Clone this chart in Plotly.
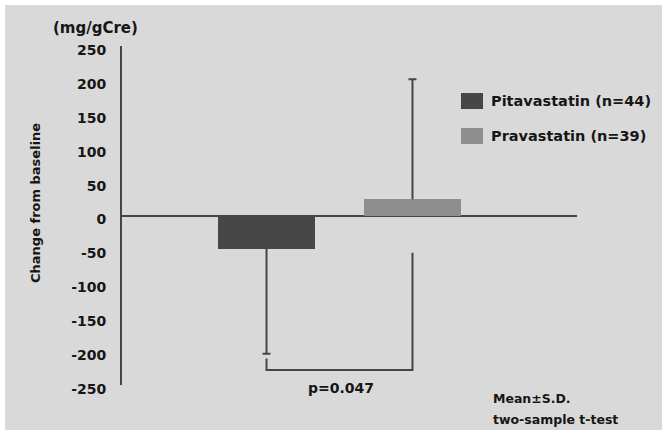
import plotly.graph_objects as go

# Change in urinary albumin from baseline (mg/gCre), mean ± S.D.
groups = ["Pitavastatin (n=44)", "Pravastatin (n=39)"]
means = [-49, 24]
sd_up = [0, 177]      # upper error arm drawn only for the positive bar
sd_down = [155, 0]    # lower error arm drawn only for the negative bar
bar_colors = ["#474747", "#8e8e8e"]
y_ticks = [250, 200, 150, 100, 50, 0, -50, -100, -150, -200, -250]
p_text = "p=0.047"

# significance bracket levels (data units)
bracket_base = -228
bracket_left_top = -211
bracket_right_top = -55

W, H = 662, 430
L, R, T, B = 122, 577, 46, 385
BG = "#d9d9d9"
INK = "#454545"
TXT = "#161616"
FONT = "DejaVu Sans, Verdana, sans-serif"


def px(x):
    return (x - L) / (R - L)


def py(y):
    return (B - y) / (B - T)


def label(text, x, y, size, xanchor="center", angle=0):
    return dict(text=f"<b>{text}</b>", x=px(x), y=py(y), xref="paper", yref="paper",
                xanchor=xanchor, yanchor="middle", showarrow=False, textangle=angle,
                font=dict(size=size, color=TXT, family=FONT))


xs = [0, 1]
fig = go.Figure()
fig.add_trace(go.Bar(
    x=xs, y=means, width=0.664,
    marker=dict(color=bar_colors, line=dict(width=0)),
    showlegend=False, hoverinfo="skip",
))

# error arms without caps, starting at the bar ends
fig.add_trace(go.Scatter(
    x=xs, y=means, mode="markers", marker=dict(size=0.1, opacity=0),
    error_y=dict(type="data", symmetric=False, array=sd_up, arrayminus=sd_down,
                 color=INK, thickness=2, width=0),
    showlegend=False, hoverinfo="skip",
))

# caps only at the outer ends of the arms
arm_ends = [m + u - d for m, u, d in zip(means, sd_up, sd_down)]
fig.add_trace(go.Scatter(
    x=xs, y=arm_ends, mode="markers", marker=dict(size=0.1, opacity=0),
    error_y=dict(type="data", array=[0, 0], color=INK, thickness=2, width=4),
    showlegend=False, hoverinfo="skip",
))

shapes = [
    # white edge strips on top and left
    dict(type="rect", xref="paper", yref="paper", x0=px(0), x1=px(W), y0=py(0), y1=py(5),
         fillcolor="white", line=dict(width=0), layer="below"),
    dict(type="rect", xref="paper", yref="paper", x0=px(0), x1=px(5), y0=py(0), y1=py(H),
         fillcolor="white", line=dict(width=0), layer="below"),
    # p-value bracket
    dict(type="path", xref="x", yref="y",
         path=f"M {xs[0]},{bracket_left_top} L {xs[0]},{bracket_base} L {xs[1]},{bracket_base} L {xs[1]},{bracket_right_top}",
         line=dict(color=INK, width=2)),
]

annotations = [
    label("(mg/gCre)", 95, 28, 15),
    label("Change from baseline", 35, 203, 13, angle=-90),
    label(p_text, 341, 388, 14),
    label("Mean±S.D.", 491, 398, 12.5, xanchor="left"),
    label("two-sample t-test", 491, 419, 12.5, xanchor="left"),
]

# legend: swatches and labels
legend_rows = [101, 136]
for name, color, yc in zip(groups, bar_colors, legend_rows):
    shapes.append(dict(type="rect", xref="paper", yref="paper",
                       x0=px(461), x1=px(483), y0=py(yc + 8), y1=py(yc - 8),
                       fillcolor=color, line=dict(width=0)))
    annotations.append(label(name, 489, yc, 14.5, xanchor="left"))

fig.update_layout(
    width=W, height=H,
    margin=dict(l=L, r=W - R, t=T, b=H - B, pad=0),
    paper_bgcolor=BG, plot_bgcolor=BG,
    shapes=shapes, annotations=annotations,
    bargap=0,
    xaxis=dict(range=[-0.99, 2.127], showticklabels=False, showgrid=False,
               zeroline=False, showline=False, ticks=""),
    yaxis=dict(range=[-250, 250], tickvals=y_ticks, ticktext=[f"<b>{v}</b>" for v in y_ticks],
               showgrid=False, zeroline=True, zerolinecolor=INK, zerolinewidth=2,
               showline=True, linecolor=INK, linewidth=2, ticks="",
               ticklabelstandoff=11, ticklabelshift=4,
               tickfont=dict(size=14, color=TXT, family=FONT)),
)

fig.write_html("out.html")
